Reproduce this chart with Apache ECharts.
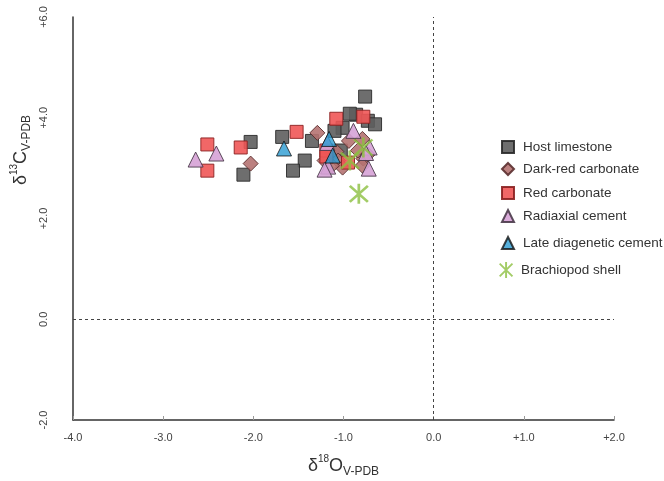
<!DOCTYPE html>
<html lang="en">
<head>
    <meta charset="UTF-8">
    <title>δ13C vs δ18O</title>
    <script src="https://cdn.jsdelivr.net/npm/echarts@6/dist/echarts.min.js"></script>
</head>
<body style="margin:0">
<div id="box" style="width:664px;height:481px;"></div>
<script type="text/javascript">
    // [δ18O, δ13C] pairs per group
    let hostLimestone=[[-0.76,4.42],[-0.86,4.06],[-0.93,4.08],[-0.73,3.94],[-0.65,3.87],[-1.01,3.80],[-1.10,3.74],
        [-1.68,3.62],[-1.35,3.54],[-2.03,3.52],[-1.43,3.15],[-1.56,2.95],[-2.11,2.87],[-1.03,3.35]];
    let darkRed=[[-1.29,3.70],[-2.03,3.09],[-0.94,3.54],[-0.79,3.58],[-1.18,3.19],[-1.08,3.33],[-1.06,3.15],
        [-1.01,3.01],[-0.78,3.19],[-0.79,3.05],[-1.13,3.05],[-0.84,3.35],[-0.73,3.27],[-1.21,3.15]];
    let redCarb=[[-1.08,3.98],[-1.52,3.72],[-2.51,3.47],[-2.14,3.41],[-2.51,2.95],[-0.78,4.02],[-1.19,3.35],
        [-1.19,3.23],[-0.95,3.11]];
    let radiaxial=[[-2.64,3.17],[-2.41,3.29],[-0.89,3.74],[-0.71,3.41],[-0.72,2.99],[-1.17,3.03],[-1.21,2.97],
        [-1.18,3.50],[-0.75,3.30]];
    let lateCement=[[-1.66,3.39],[-1.16,3.58],[-1.12,3.25]];
    let brachiopod=[[-0.83,2.49],[-0.78,3.41],[-0.93,3.15]];

    let names=['Host limestone','Dark-red carbonate','Red carbonate','Radiaxial cement','Late diagenetic cement','Brachiopod shell'];
    let legendTops=[140,162,186,209,236,264];

    let asterisk='path://M44 0L56 0L56 100L44 100Z M5.8 14.2L14.2 5.8L94.2 85.8L85.8 94.2Z M85.8 5.8L94.2 14.2L14.2 94.2L5.8 85.8Z';

    function fmt(v) {
        return v>0 ? '+'+v.toFixed(1) : v.toFixed(1);
    }
    let font='Liberation Sans, Arial, sans-serif';

    let chart=echarts.init(document.getElementById('box'));
    let option={
        animation:false,
        textStyle:{fontFamily:font},
        grid:{left:73,right:50,top:17,bottom:61,containLabel:false,outerBoundsMode:'none'},
        legend:names.map((n,i)=>({
            data:[n],left:i==5?499:501,top:i==5?legendTops[i]-2:legendTops[i],padding:0,
            itemWidth:i==5?16:12,itemHeight:i==5?16:12,
            textStyle:{fontSize:13.5,color:'#333',fontFamily:font,padding:[0,0,0,i==5?2:4]}
        })),
        xAxis:{
            type:'value',min:-4,max:2,interval:1,
            axisLine:{onZero:false,lineStyle:{color:'#333',width:1.5}},
            axisTick:{show:true,inside:true,length:4,lineStyle:{color:'#999'}},
            splitLine:{show:false},
            axisLabel:{formatter:fmt,color:'#444',fontSize:11,margin:12},
            name:'{a|δ}{sup|18}{a|O}{sub|V-PDB}',
            nameLocation:'middle',nameGap:34,
            nameTextStyle:{
                rich:{
                    a:{fontSize:18,color:'#333',lineHeight:24,fontFamily:font},
                    sup:{fontSize:10,color:'#333',lineHeight:10,verticalAlign:'top',fontFamily:font},
                    sub:{fontSize:12,color:'#333',lineHeight:10,verticalAlign:'bottom',fontFamily:font}
                }
            }
        },
        yAxis:{
            type:'value',min:-2,max:6,interval:2,
            axisLine:{onZero:false,lineStyle:{color:'#333',width:1.5}},
            axisTick:{show:false},
            splitLine:{show:false},
            axisLabel:{formatter:fmt,color:'#444',fontSize:11,rotate:90,margin:24}
        },
        graphic:[{
            type:'text',x:21,y:150,rotation:Math.PI/2,
            style:{
                text:'{a|δ}{sup|13}{a|C}{sub|V-PDB}',
                align:'center',verticalAlign:'middle',
                rich:{
                    a:{fontSize:18,fill:'#333',lineHeight:24,fontFamily:font},
                    sup:{fontSize:10,fill:'#333',lineHeight:10,verticalAlign:'top',fontFamily:font},
                    sub:{fontSize:12,fill:'#333',lineHeight:10,verticalAlign:'bottom',fontFamily:font}
                }
            }
        }],
        series:[
            {
                name:names[0],type:'scatter',data:hostLimestone,symbol:'rect',symbolSize:13,
                itemStyle:{color:'#5e5e5e',borderColor:'#2a2a2a',borderWidth:1,opacity:0.9},
                markLine:{
                    silent:true,symbol:'none',label:{show:false},
                    lineStyle:{type:[3,3],color:'#444',width:1},
                    data:[{xAxis:0},{yAxis:0}]
                }
            },
            {
                name:names[1],type:'scatter',data:darkRed,symbol:'diamond',symbolSize:15,
                itemStyle:{color:'#b57372',borderColor:'#5a2e2e',borderWidth:1,opacity:0.9}
            },
            {
                name:names[2],type:'scatter',data:redCarb,symbol:'rect',symbolSize:13,
                itemStyle:{color:'#ef5656',borderColor:'#8a2020',borderWidth:1,opacity:0.9}
            },
            {
                name:names[3],type:'scatter',data:radiaxial,symbol:'triangle',symbolSize:15,
                itemStyle:{color:'#d6a2d6',borderColor:'#4a3a4a',borderWidth:1,opacity:0.9}
            },
            {
                name:names[4],type:'scatter',data:lateCement,symbol:'triangle',symbolSize:15,
                itemStyle:{color:'#2a9bd2',borderColor:'#111',borderWidth:1}
            },
            {
                name:names[5],type:'scatter',data:brachiopod,symbol:asterisk,symbolSize:20,
                itemStyle:{color:'#8cbf40'}
            }
        ]
    };
    chart.setOption(option);
</script>
</body>
</html>
